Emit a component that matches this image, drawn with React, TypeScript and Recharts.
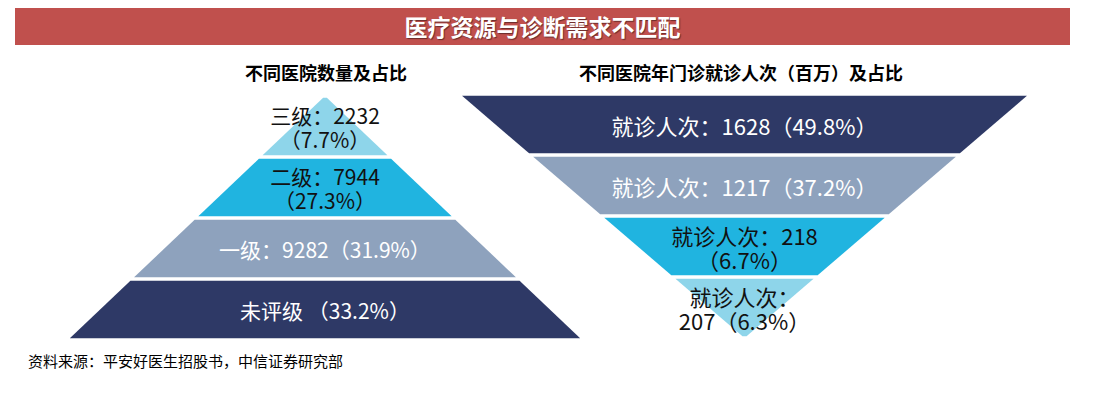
import { Funnel, FunnelChart } from 'recharts';

// 不同医院数量及占比（从塔尖到塔底）
const hospitalTiers = ['三级', '二级', '一级', '未评级'];
const hospitalCounts: (number | null)[] = [2232, 7944, 9282, null];
const hospitalShares = [7.7, 27.3, 31.9, 33.2];

// 不同医院年门诊就诊人次（百万）及占比（从上到下）
const visitCounts = [1628, 1217, 218, 207];
const visitShares = [49.8, 37.2, 6.7, 6.3];

// 金字塔每层的相对宽度（示意，不代表数据大小）
const pyramidSteps = [1, 2, 3, 4];

const COLORS = {
  navy: '#2e3966',
  slate: '#8ea2bd',
  cyan: '#20b4e0',
  sky: '#8ed5ea',
  red: '#c0504d',
};

const hospitalFills = [COLORS.sky, COLORS.cyan, COLORS.slate, COLORS.navy];
const hospitalText = ['#111', '#111', '#fff', '#fff'];
const visitFills = [COLORS.navy, COLORS.slate, COLORS.cyan, COLORS.sky];
const visitText = ['#fff', '#fff', '#111', '#111'];

const FONT = "'Noto Sans CJK SC', sans-serif";
const GAP = 3.5;

function hospitalLabel(i: number): string[] {
  const count = hospitalCounts[i];
  const head = count != null ? `${hospitalTiers[i]}：${count}` : `${hospitalTiers[i]} `;
  const share = `（${hospitalShares[i]}%）`;
  return i < 2 ? [head, share] : [head + share];
}

function visitLabel(i: number): string[] {
  const share = `（${visitShares[i]}%）`;
  if (i < 2) return [`就诊人次：${visitCounts[i]}${share}`];
  if (i === 2) return [`就诊人次：${visitCounts[i]}`, share];
  return ['就诊人次：', `${visitCounts[i]}${share}`];
}

// 左侧为正金字塔（reversed），数据按从底到顶排列
const hospitalRows = hospitalTiers
  .map((name, i) => ({ name, i, step: pyramidSteps[i] }))
  .reverse();

const visitRows = visitCounts.map((v, i) => ({
  name: `${v}`,
  i,
  step: pyramidSteps[pyramidSteps.length - 1 - i],
}));

function makeLayer(
  labelFor: (i: number) => string[],
  fills: string[],
  textColors: string[],
  fontSize: number,
) {
  return (props: any) => {
    const { x, y, upperWidth, lowerWidth, height } = props;
    const i: number = props.payload?.i ?? props.i ?? props.index ?? 0;
    const cx = x + upperWidth / 2;
    const inset = GAP / 2;
    const t0 = inset / height;
    const w0 = upperWidth + (lowerWidth - upperWidth) * t0;
    const w1 = upperWidth + (lowerWidth - upperWidth) * (1 - t0);
    const y0 = y + inset;
    const y1 = y + height - inset;
    const d = `M${cx - w0 / 2},${y0}L${cx + w0 / 2},${y0}L${cx + w1 / 2},${y1}L${cx - w1 / 2},${y1}Z`;
    const lines = labelFor(i);
    const cy = y + height / 2;
    return (
      <g>
        <path d={d} fill={fills[i]} />
        {lines.map((t, k) => (
          <text
            key={k}
            x={cx}
            y={cy + (k - (lines.length - 1) / 2) * 24}
            textAnchor="middle"
            dominantBaseline="central"
            fill={textColors[i]}
            fontSize={fontSize}
            fontFamily={FONT}
          >
            {t}
          </text>
        ))}
      </g>
    );
  };
}

const NO_MARGIN = { top: 0, right: 0, bottom: 0, left: 0 };

export default function App() {
  return (
    <div
      style={{
        position: 'absolute',
        left: 0,
        top: 0,
        width: 1094,
        height: 394,
        background: '#fff',
        fontFamily: FONT,
      }}
    >
      <div
        style={{
          position: 'absolute',
          left: 15,
          top: 8,
          width: 1055,
          height: 37,
          background: COLORS.red,
          color: '#fff',
          fontSize: 23,
          fontWeight: 700,
          lineHeight: '37px',
          textAlign: 'center',
          textShadow: '1px 1px 1px rgba(0,0,0,0.45)',
        }}
      >
        医疗资源与诊断需求不匹配
      </div>

      <div
        style={{
          position: 'absolute',
          left: 176,
          top: 60,
          width: 300,
          lineHeight: '24px',
          fontSize: 18,
          fontWeight: 700,
          textAlign: 'center',
          color: '#000',
        }}
      >
        不同医院数量及占比
      </div>
      <div
        style={{
          position: 'absolute',
          left: 541,
          top: 60,
          width: 400,
          lineHeight: '24px',
          fontSize: 18,
          fontWeight: 700,
          textAlign: 'center',
          color: '#000',
        }}
      >
        不同医院年门诊就诊人次（百万）及占比
      </div>

      <div style={{ position: 'absolute', left: 68, top: 96 }}>
        <FunnelChart width={514} height={244} margin={NO_MARGIN}>
          <Funnel
            data={hospitalRows}
            dataKey="step"
            nameKey="name"
            lastShapeType="triangle"
            reversed
            isAnimationActive={false}
            shape={makeLayer(hospitalLabel, hospitalFills, hospitalText, 21)}
          />
        </FunnelChart>
      </div>

      <div style={{ position: 'absolute', left: 460, top: 94 }}>
        <FunnelChart width={569} height={244} margin={NO_MARGIN}>
          <Funnel
            data={visitRows}
            dataKey="step"
            nameKey="name"
            lastShapeType="triangle"
            isAnimationActive={false}
            shape={makeLayer(visitLabel, visitFills, visitText, 22)}
          />
        </FunnelChart>
      </div>

      <div
        style={{
          position: 'absolute',
          left: 28,
          top: 351,
          lineHeight: '20px',
          fontSize: 15,
          color: '#000',
        }}
      >
        资料来源：平安好医生招股书，中信证券研究部
      </div>
    </div>
  );
}
